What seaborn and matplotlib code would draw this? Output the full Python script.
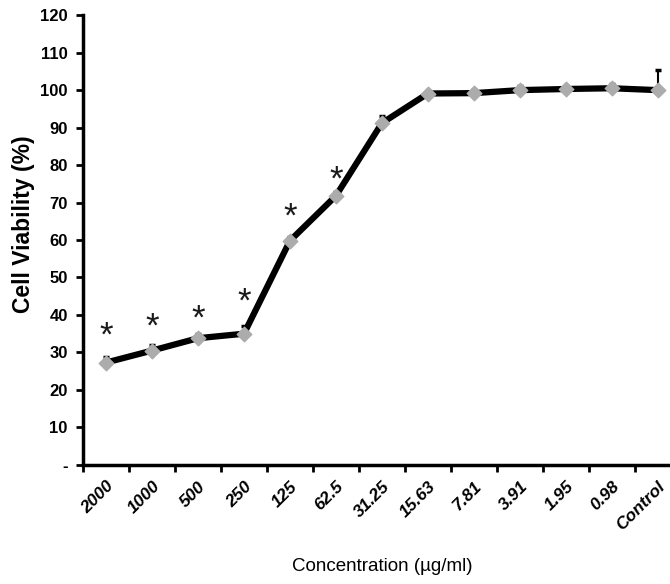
import numpy as np
import pandas as pd
import matplotlib
matplotlib.use("Agg")
import matplotlib.pyplot as plt
import seaborn as sns

# данные
concentrations = ["2000", "1000", "500", "250", "125", "62.5", "31.25",
                  "15.63", "7.81", "3.91", "1.95", "0.98", "Control"]
viability = [27.3, 30.5, 33.8, 35.0, 59.8, 71.8, 91.2, 99.1, 99.2, 100.0, 100.3, 100.5, 100.0]
sd_upper = [1.5, 1.5, 1.2, 2.0, 1.0, 1.0, 2.0, 0.8, 0.8, 1.2, 0.8, 1.2, 5.3]
significant = [True, True, True, True, True, True, False, False, False, False, False, False, False]
star_height = [34.3, 36.7, 38.8, 43.3, 66.0, 76.0]

df = pd.DataFrame({"Концентрация": concentrations, "Жизнеспособность": viability})

sns.set_style("ticks")
plt.rcParams["font.family"] = ["Liberation Sans", "DejaVu Sans"]
plt.rcParams["text.color"] = "black"
plt.rcParams["axes.labelcolor"] = "black"
plt.rcParams["xtick.color"] = "black"
plt.rcParams["ytick.color"] = "black"
plt.rcParams["axes.edgecolor"] = "black"

fig = plt.figure(figsize=(6.7, 5.84), dpi=100)
ax = fig.add_axes([0.124, 0.204, 0.892, 0.770])

# ошибки (только вверх)
xs = np.arange(len(concentrations))
ax.errorbar(xs, viability, yerr=[np.zeros(len(sd_upper)), sd_upper],
            fmt="none", ecolor="black", elinewidth=1.5, capsize=2.5, capthick=2.5, zorder=2)

sns.pointplot(data=df, x="Концентрация", y="Жизнеспособность", ax=ax,
              color="black", markers="D", linewidth=4.5, markersize=0, errorbar=None, zorder=3)
ax.scatter(xs, viability, marker="D", s=55, color="#acacac", edgecolor="#acacac", zorder=4)

# звёздочки значимости
for i, h in zip(np.where(significant)[0], star_height):
    ax.text(i, h, "*", ha="center", va="center", fontsize=25, color="#1a1a1a")

ax.set_xlim(-0.5, 12.5)
ax.set_ylim(0, 120)
ax.set_yticks(range(0, 121, 10))
ax.set_yticklabels(["-"] + [str(v) for v in range(10, 121, 10)],
                   fontsize=12, fontweight="bold")

ax.set_xticks(xs)
ax.set_xticklabels(concentrations, rotation=45, ha="right", rotation_mode="anchor",
                   fontsize=12.5, fontweight="bold", fontstyle="italic")
ax.set_xticks(np.arange(-0.5, 12.6, 1), minor=True)
ax.tick_params(axis="x", which="major", length=0, pad=10)
ax.tick_params(axis="x", which="minor", length=5, width=2)
ax.tick_params(axis="y", length=5, width=2, pad=6)

for s in ["left", "bottom"]:
    ax.spines[s].set_linewidth(2.5)
sns.despine(ax=ax)

ax.set_ylabel("Cell Viability (%)", fontsize=16.5, fontweight="bold")
ax.yaxis.set_label_coords(-0.08, 0.535)
ax.set_xlabel("Concentration (µg/ml)", fontsize=13.5, labelpad=18)

fig.savefig("out.png", dpi=100)
